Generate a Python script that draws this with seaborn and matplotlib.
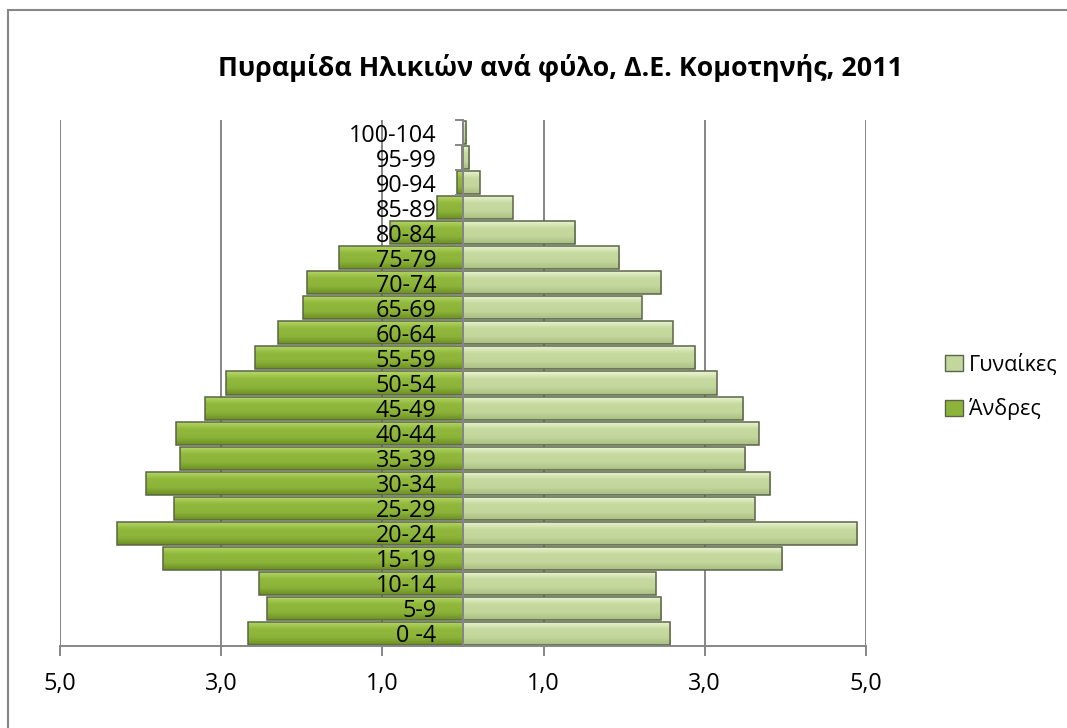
import matplotlib
matplotlib.use("Agg")
import matplotlib.pyplot as plt
from matplotlib.patches import Rectangle
from matplotlib.colors import LinearSegmentedColormap
from matplotlib.ticker import FixedLocator, FuncFormatter
import seaborn as sns
import pandas as pd
import numpy as np

# age groups, bottom to top
ages = ["0 -4", "5-9", "10-14", "15-19", "20-24", "25-29", "30-34", "35-39",
        "40-44", "45-49", "50-54", "55-59", "60-64", "65-69", "70-74", "75-79",
        "80-84", "85-89", "90-94", "95-99", "100-104"]

# % of population
men = [2.67, 2.43, 2.53, 3.72, 4.29, 3.58, 3.93, 3.51, 3.56, 3.20, 2.94,
       2.58, 2.29, 1.99, 1.94, 1.54, 0.91, 0.32, 0.08, 0.01, 0.0]
women = [2.57, 2.46, 2.39, 3.96, 4.89, 3.62, 3.81, 3.50, 3.67, 3.48, 3.15,
         2.88, 2.60, 2.22, 2.46, 1.94, 1.39, 0.62, 0.21, 0.08, 0.04]

title = "Πυραμίδα Ηλικιών ανά φύλο, Δ.Ε. Κομοτηνής, 2011"
label_w = "Γυναίκες"
label_m = "Άνδρες"
xticks = [-5, -3, -1, 1, 3, 5]

df = pd.DataFrame({
    "age": ages * 2,
    "value": women + [-v for v in men],
    "sex": [label_w] * len(ages) + [label_m] * len(ages),
})

colors = {label_w: "#C3D79C", label_m: "#8DB43A"}
# bevel look: light top, body, darker bottom
shades = {
    label_w: ["#EEF7D6", "#C6DAA0", "#C3D79C", "#A9BE82"],
    label_m: ["#B8DA6A", "#90B83C", "#8DB43A", "#6C8F22"],
}

sns.set_theme(style="white")
plt.rcParams["font.family"] = ["Open Sans", "DejaVu Sans"]

fig = plt.figure(figsize=(10.67, 7.28), dpi=100)
ax = fig.add_axes([60 / 1067, 82 / 728, 806 / 1067, 526 / 728])

grey = "#868686"
for x in xticks:
    ax.axvline(x, color=grey, lw=1.4, zorder=0)

sns.barplot(data=df, x="value", y="age", hue="sex", order=ages[::-1],
            hue_order=[label_w, label_m], dodge=False, width=0.92,
            palette=colors, edgecolor="#5B6448", linewidth=1.1,
            saturation=1, ax=ax)

# gradient fill clipped to each bar
n = len(ages)
for i, p in enumerate(ax.patches[:2 * n]):
    key = label_w if i < n else label_m
    cmap = LinearSegmentedColormap.from_list(key, shades[key])
    x0, y0 = p.get_x(), p.get_y()
    w, h = p.get_width(), p.get_height()
    if w == 0:
        continue
    grad = np.linspace(0, 1, 64).reshape(-1, 1)
    im = ax.imshow(grad, cmap=cmap, aspect="auto", interpolation="bicubic",
                   extent=(x0, x0 + w, y0 + h, y0), zorder=p.get_zorder() + 0.1)
    im.set_clip_path(p)
    p.set_zorder(p.get_zorder() + 0.2)
    p.set_facecolor("none")

ax.set_xlim(-5, 5)
ax.set_ylim(n - 0.5, -0.5)
ax.set_xlabel("")
ax.set_ylabel("")

ax.xaxis.set_major_locator(FixedLocator(xticks))
ax.xaxis.set_major_formatter(FuncFormatter(lambda v, p: f"{abs(v):.1f}".replace(".", ",")))
ax.tick_params(axis="x", direction="out", length=7, width=1.4, color=grey,
               pad=12, labelsize=16.8, labelcolor="black", bottom=True)

ax.spines["left"].set_position(("data", 0))
for s in ["top", "right"]:
    ax.spines[s].set_visible(False)
for s in ["left", "bottom"]:
    ax.spines[s].set_color(grey)
    ax.spines[s].set_linewidth(1.4)
ax.spines["left"].set_zorder(5)

ax.yaxis.set_minor_locator(FixedLocator([i - 0.5 for i in range(n + 1)]))
ax.tick_params(axis="y", which="major", length=0, pad=19, labelsize=16.8,
               labelcolor="black", left=True)
ax.tick_params(axis="y", which="minor", direction="out", length=6, width=1.4,
               color=grey, left=True)
ax.yaxis.set_zorder(6)

handles = [Rectangle((0, 0), 1, 1, facecolor=colors[k], edgecolor="#5B6448", lw=1)
           for k in [label_w, label_m]]
ax.legend(handles, [label_w, label_m], loc="center left",
          bbox_to_anchor=(926 / 1067, 1 - 387 / 728),
          bbox_transform=fig.transFigure, frameon=False, fontsize=15.5,
          handlelength=0.8, handleheight=0.8, handletextpad=0.3,
          labelspacing=1.05, labelcolor="black")

fig.text(560 / 1067, 1 - 68 / 728, title, ha="center", va="center",
         fontsize=19.3, fontweight="bold", color="black")

fig.patches.append(Rectangle((8 / 1067, -0.1), 1.2, 1.1 - 10 / 728, fill=False,
                             edgecolor=grey, lw=1.5, transform=fig.transFigure))

fig.savefig("out.png", dpi=100)
